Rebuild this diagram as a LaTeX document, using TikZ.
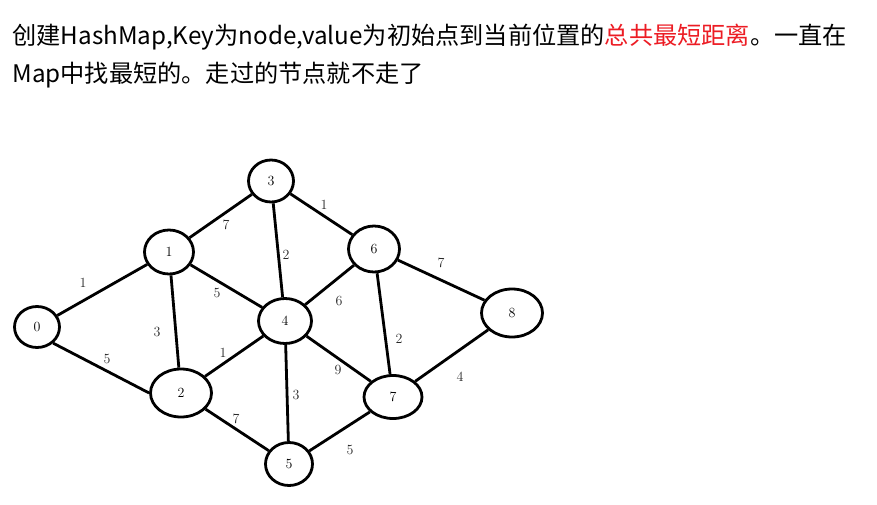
\documentclass[tikz,border=0pt]{standalone}
\usepackage{fontspec}
\newfontfamily\cjk{Noto Sans CJK SC}
\usetikzlibrary{shapes.geometric}
\definecolor{hotred}{RGB}{236,28,36}

\begin{document}
\begin{tikzpicture}[x=1pt, y=-1pt, line width=2.8pt]
  \tikzset{vert/.style={ellipse,draw=black,inner sep=0pt,font=\fontsize{14}{14}\selectfont},
           wt/.style={font=\fontsize{14}{14}\selectfont,text=black!85,inner sep=0pt}}
  \useasboundingbox (0,0) rectangle (877,505);

  % heading
  \node[anchor=west,inner sep=0pt,font=\cjk\fontsize{24.2}{24.2}\selectfont] (line1) at (11,37)
    {创建HashMap,Key为node,value为初始点到当前位置的\textcolor{hotred}{总共最短距离}。一直在};
  \node[anchor=west,inner sep=0pt,font=\cjk\fontsize{24.2}{24.2}\selectfont] (line2) at (11,75)
    {Map中找最短的。走过的节点就不走了};

  % graph
  \node[vert,minimum width=45pt,minimum height=41pt] (n0) at (37,327) {0};
  \node[vert,minimum width=49pt,minimum height=44pt] (n1) at (169,252) {1};
  \node[vert,minimum width=61pt,minimum height=48pt] (n2) at (181,393) {2};
  \node[vert,minimum width=45pt,minimum height=42pt] (n3) at (271,181) {3};
  \node[vert,minimum width=53pt,minimum height=45pt] (n4) at (285,321) {4};
  \node[vert,minimum width=47pt,minimum height=43pt] (n5) at (289,464) {5};
  \node[vert,minimum width=51pt,minimum height=46pt] (n6) at (374,249) {6};
  \node[vert,minimum width=58pt,minimum height=43pt] (n7) at (393,397) {7};
  \node[vert,minimum width=61pt,minimum height=48pt] (n8) at (512,313) {8};

  \path (n0) edge (n1)
        (n0.-45) edge (n2.west)
        (n1) edge (n3)
             edge (n2)
             edge (n4)
        (n3) edge (n4)
             edge (n6)
        (n6) edge (n4)
             edge (n8)
             edge (n7)
        (n4) edge (n2)
             edge (n7)
             edge (n5)
        (n8) edge (n7)
        (n2) edge (n5)
        (n7) edge (n5);

  % weights
  \node[wt] (w01) at (83,283) {1};
  \node[wt] (w02) at (107,359) {5};
  \node[wt] (w13) at (226,225) {7};
  \node[wt] (w12) at (157,332) {3};
  \node[wt] (w14) at (217,293) {5};
  \node[wt] (w34) at (286,255) {2};
  \node[wt] (w36) at (324,205) {1};
  \node[wt] (w64) at (339,301) {6};
  \node[wt] (w68) at (441,263) {7};
  \node[wt] (w67) at (399,339) {2};
  \node[wt] (w42) at (223,353) {1};
  \node[wt] (w47) at (338,370) {9};
  \node[wt] (w45) at (296,395) {3};
  \node[wt] (w87) at (460,377) {4};
  \node[wt] (w25) at (236,419) {7};
  \node[wt] (w75) at (350,450) {5};
\end{tikzpicture}
\end{document}
